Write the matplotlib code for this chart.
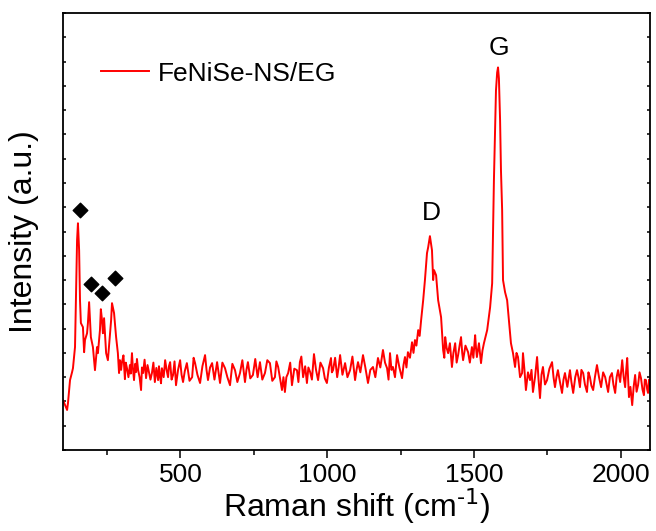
import matplotlib
matplotlib.use('Agg')
from matplotlib import pyplot as plt
from matplotlib.ticker import MultipleLocator, NullFormatter

plt.rcParams['font.family'] = ['Liberation Sans', 'DejaVu Sans']

# Raman spectrum (arbitrary units)
shift = [100, 107, 114, 117, 124, 131, 134, 141, 144, 148, 151, 155, 158, 161, 168, 172, 175, 182, 185, 189,
         192, 195, 202, 209, 216, 219, 226, 229, 233, 236, 240, 247, 253, 257, 264, 267, 274, 281, 287, 291,
         294, 298, 301, 306, 311, 314, 318, 323, 328, 331, 335, 338, 342, 346, 349, 352, 356, 361, 366, 369,
         373, 378, 383, 388, 393, 398, 403, 408, 413, 418, 424, 427, 430, 434, 437, 443, 448, 453, 458, 461,
         465, 470, 475, 480, 485, 492, 499, 504, 509, 515, 522, 531, 540, 545, 550, 558, 567, 575, 584, 589,
         594, 601, 608, 616, 625, 630, 635, 643, 652, 660, 669, 677, 686, 694, 703, 711, 720, 725, 730, 738,
         747, 755, 763, 771, 779, 788, 796, 805, 813, 822, 827, 833, 840, 846, 851, 856, 861, 867, 874, 880,
         888, 897, 902, 907, 912, 918, 925, 931, 936, 942, 948, 955, 962, 969, 977, 986, 992, 999, 1006, 1013,
         1016, 1020, 1027, 1034, 1039, 1044, 1052, 1061, 1069, 1078, 1086, 1095, 1100, 1105, 1113, 1122, 1130, 1139, 1147, 1156,
         1164, 1173, 1181, 1190, 1197, 1204, 1209, 1214, 1219, 1224, 1231, 1238, 1246, 1255, 1260, 1265, 1270, 1275, 1282, 1289,
         1294, 1299, 1304, 1310, 1315, 1320, 1327, 1333, 1340, 1344, 1350, 1357, 1361, 1364, 1371, 1378, 1388, 1395, 1399, 1402,
         1407, 1412, 1418, 1425, 1430, 1436, 1441, 1446, 1451, 1456, 1460, 1463, 1471, 1480, 1486, 1493, 1498, 1504, 1507, 1510,
         1517, 1524, 1529, 1534, 1540, 1545, 1555, 1562, 1565, 1568, 1572, 1575, 1579, 1582, 1585, 1589, 1592, 1596, 1599, 1606,
         1613, 1620, 1626, 1633, 1640, 1645, 1650, 1657, 1664, 1667, 1672, 1677, 1684, 1691, 1696, 1701, 1708, 1715, 1720, 1725,
         1730, 1735, 1742, 1749, 1757, 1766, 1771, 1776, 1781, 1786, 1793, 1800, 1805, 1810, 1818, 1827, 1832, 1838, 1845, 1851,
         1856, 1861, 1866, 1872, 1878, 1885, 1890, 1895, 1900, 1906, 1912, 1919, 1926, 1933, 1940, 1947, 1952, 1957, 1963, 1970,
         1975, 1981, 1986, 1991, 1998, 2005, 2010, 2015, 2018, 2022, 2025, 2028, 2033, 2039, 2044, 2049, 2054, 2059, 2064, 2069,
         2074, 2079, 2082, 2086, 2090, 2093, 2097, 2100]
intensity = [206, 185, 165, 193, 288, 321, 337, 424, 617, 864, 934, 823, 617, 523, 506, 403, 453, 481, 523, 609,
             535, 465, 424, 329, 424, 399, 494, 580, 535, 481, 543, 399, 370, 432, 535, 605, 564, 465, 399, 317,
             370, 330, 362, 390, 292, 360, 337, 300, 350, 315, 399, 340, 288, 355, 321, 375, 329, 300, 247, 340,
             317, 372, 296, 350, 321, 290, 317, 360, 280, 338, 288, 345, 309, 275, 337, 300, 370, 330, 300, 345,
             362, 290, 309, 365, 267, 330, 370, 310, 280, 325, 358, 285, 300, 380, 358, 310, 276, 345, 391, 330,
             288, 340, 358, 290, 362, 320, 276, 360, 337, 300, 267, 355, 329, 280, 317, 370, 280, 330, 362, 295,
             309, 375, 300, 362, 290, 317, 370, 358, 285, 300, 365, 342, 290, 247, 300, 239, 300, 317, 360, 267,
             335, 329, 280, 362, 385, 300, 345, 276, 340, 321, 290, 395, 330, 288, 360, 337, 295, 276, 340, 379,
             320, 329, 380, 300, 340, 391, 310, 358, 300, 329, 385, 288, 330, 362, 320, 391, 340, 276, 330, 342,
             300, 379, 340, 412, 360, 337, 290, 399, 330, 342, 300, 391, 340, 296, 350, 383, 340, 403, 380, 444,
             400, 453, 430, 494, 470, 535, 617, 700, 811, 835, 881, 823, 700, 741, 720, 617, 547, 412, 380, 465,
             420, 399, 440, 342, 400, 440, 360, 391, 430, 465, 400, 370, 430, 403, 360, 424, 380, 473, 420, 383,
             440, 358, 410, 440, 470, 494, 588, 687, 893, 1111, 1317, 1481, 1555, 1576, 1531, 1358, 1152, 988, 700, 650,
             617, 523, 440, 399, 342, 400, 383, 300, 317, 399, 330, 247, 320, 288, 330, 239, 300, 383, 290, 214,
             310, 342, 270, 288, 335, 362, 300, 259, 300, 329, 280, 235, 290, 317, 260, 329, 280, 235, 300, 329,
             300, 259, 330, 317, 270, 239, 320, 300, 265, 247, 300, 350, 300, 259, 320, 300, 270, 239, 300, 317,
             270, 235, 300, 329, 280, 370, 300, 259, 320, 379, 300, 218, 260, 185, 260, 309, 240, 267, 320, 296,
             250, 226, 290, 288, 250, 235, 290, 267]

# marked peaks (diamonds) and band labels
marker_x = [158, 195, 233, 277]
marker_y = [988, 683, 646, 708]
band_labels = ['D', 'G']
band_x = [1354, 1585]
band_y = [975, 1654]

fig = plt.figure(figsize=(6.56, 5.31), dpi=100)
ax = fig.add_axes([0.096, 0.1525, 0.895, 0.823])

ax.plot(shift, intensity, color='#ff0000', lw=1.4, label='FeNiSe-NS/EG')
ax.scatter(marker_x, marker_y, marker='D', s=55, color='black', zorder=3)
for lab, bx, by in zip(band_labels, band_x, band_y):
    ax.text(bx, by, lab, fontsize=19, ha='center', va='center')

ax.set_xlim(100, 2100)
ax.set_ylim(0, 1800)

ax.xaxis.set_major_locator(MultipleLocator(500))
ax.xaxis.set_minor_locator(MultipleLocator(250))
ax.yaxis.set_major_locator(MultipleLocator(100))
ax.yaxis.set_major_formatter(NullFormatter())
ax.tick_params(axis='x', which='major', direction='out', length=6, width=1.1, labelsize=19, pad=3)
ax.tick_params(axis='x', which='minor', direction='out', length=3.5, width=1.1)
ax.tick_params(axis='y', which='both', direction='in', length=2.5, width=1.1, left=True, right=True)

for s in ax.spines.values():
    s.set_linewidth(1.3)

ax.set_xlabel('Raman shift (cm$^{\\text{-1}}$)', fontsize=23, labelpad=0)
ax.set_ylabel('Intensity (a.u.)', fontsize=23, labelpad=14)

ax.legend(loc='upper left', bbox_to_anchor=(0.025, 0.943), frameon=False, fontsize=19,
          handlelength=1.8, handletextpad=0.35)

fig.savefig('out.png', dpi=100)
